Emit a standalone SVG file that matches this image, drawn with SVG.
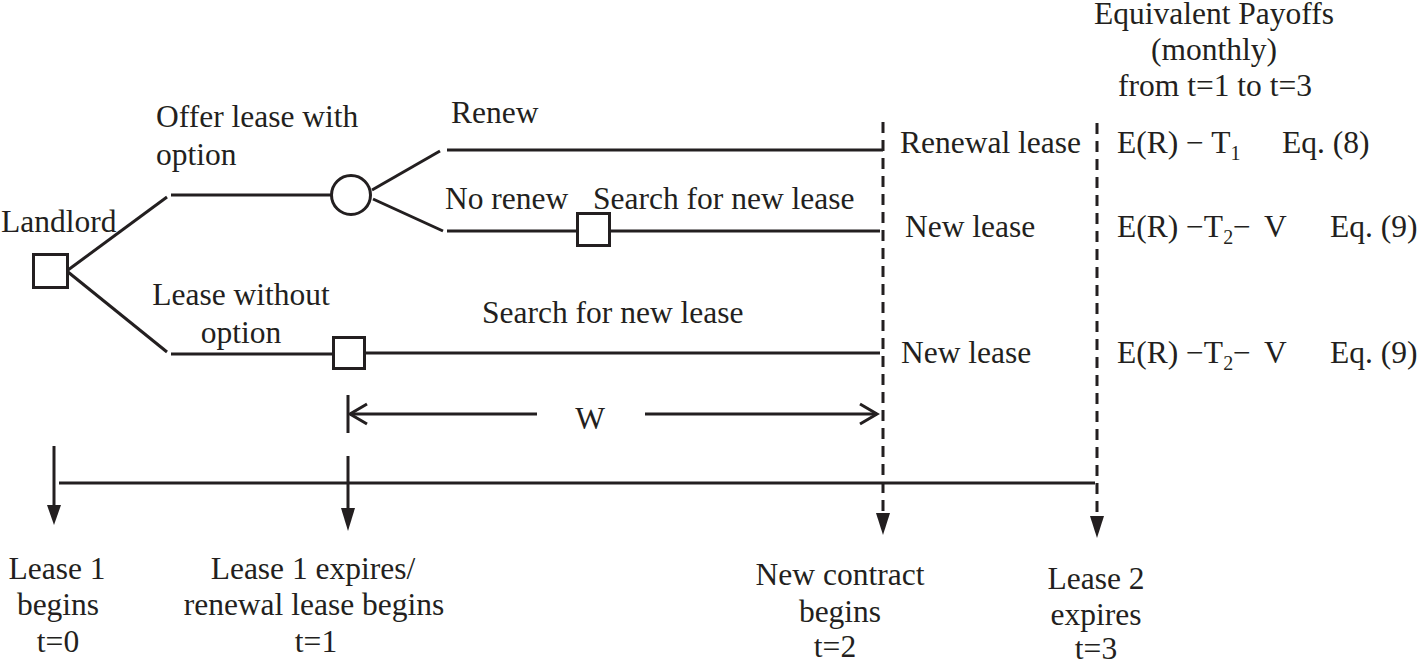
<svg xmlns="http://www.w3.org/2000/svg" width="1417" height="664" viewBox="0 0 1417 664" font-family="Liberation Serif, DejaVu Serif, serif">
<style>
text{font-size:31.5px;fill:#231f20}
.c{text-anchor:middle}
.ln{stroke:#231f20;stroke-width:3;fill:none}
.dash{stroke:#231f20;stroke-width:3;fill:none;stroke-dasharray:11 7}
.node{stroke:#231f20;stroke-width:3;fill:#fff}
.sub{font-size:20px}
.head{fill:#231f20;stroke:none}
</style>
<rect width="1417" height="664" fill="#fff"/>

<g id="connectors">
  <line class="ln" x1="68" y1="270" x2="167" y2="197"/>
  <line class="ln" x1="171" y1="195" x2="331" y2="195"/>
  <line class="ln" x1="68" y1="272" x2="167" y2="352"/>
  <line class="ln" x1="171" y1="354" x2="333" y2="354"/>
  <line class="ln" x1="372" y1="190" x2="440" y2="151"/>
  <line class="ln" x1="373" y1="199" x2="443" y2="231"/>
  <line class="ln" x1="447" y1="150" x2="883" y2="150"/>
  <line class="ln" x1="447" y1="231" x2="577" y2="231"/>
  <line class="ln" x1="610" y1="231" x2="880" y2="231"/>
  <line class="ln" x1="365" y1="353" x2="880" y2="353"/>
  <line class="dash" x1="883" y1="122" x2="883" y2="515"/>
  <path class="head" d="M876,513 L890,513 L883,535 Z"/>
  <line class="dash" x1="1097" y1="123" x2="1097" y2="518"/>
  <path class="head" d="M1090,516 L1104,516 L1097,538 Z"/>
  <line class="ln" x1="59" y1="483" x2="1095" y2="483"/>
  <line class="ln" x1="54" y1="446" x2="54" y2="507"/>
  <path class="head" d="M47,505 L61,505 L54,525 Z"/>
  <line class="ln" x1="348" y1="456" x2="348" y2="510"/>
  <path class="head" d="M341,508 L355,508 L348,531 Z"/>
  <line class="ln" x1="348" y1="395" x2="348" y2="433"/>
  <line class="ln" x1="350" y1="414" x2="537" y2="414"/>
  <polyline class="ln" points="367,404 350,414 367,424"/>
  <line class="ln" x1="645" y1="414" x2="877" y2="414"/>
  <polyline class="ln" points="860,404 877,414 860,424"/>
</g>

<g id="landlord">
  <rect class="node" x="33.5" y="254.5" width="34" height="33"/>
  <text x="1" y="232">Landlord</text>
</g>
<g id="chance-node">
  <circle class="node" cx="351" cy="195" r="19.5"/>
</g>
<g id="search-node-1">
  <rect class="node" x="577.5" y="213.5" width="32" height="32"/>
</g>
<g id="search-node-2">
  <rect class="node" x="333.5" y="337.5" width="31" height="31"/>
</g>

<g id="branch-labels">
  <text x="156" y="127">Offer lease with</text>
  <text x="156" y="165">option</text>
  <text class="c" x="241" y="305">Lease without</text>
  <text class="c" x="241" y="343">option</text>
  <text x="451" y="123">Renew</text>
  <text x="445" y="209">No renew</text>
  <text x="593" y="209">Search for new lease</text>
  <text x="482" y="323">Search for new lease</text>
  <text class="c" x="590" y="429">W</text>
</g>

<g id="outcomes">
  <text x="900" y="153">Renewal lease</text>
  <text x="905" y="237">New lease</text>
  <text x="901" y="363">New lease</text>
</g>

<g id="payoffs">
  <text class="c" x="1214" y="24">Equivalent Payoffs</text>
  <text class="c" x="1214" y="60">(monthly)</text>
  <text class="c" x="1215" y="96">from t=1 to t=3</text>
  <text x="1117" y="153">E(R) − T<tspan class="sub" dy="7">1</tspan></text>
  <text x="1282" y="153">Eq. (8)</text>
  <text x="1117" y="237">E(R) −T<tspan class="sub" dy="7">2</tspan><tspan x="1233" dy="-7">−</tspan><tspan x="1264">V</tspan></text>
  <text x="1330" y="237">Eq. (9)</text>
  <text x="1117" y="363">E(R) −T<tspan class="sub" dy="7">2</tspan><tspan x="1233" dy="-7">−</tspan><tspan x="1264">V</tspan></text>
  <text x="1330" y="363">Eq. (9)</text>
</g>

<g id="time-labels">
  <text class="c" x="57" y="579">Lease 1</text>
  <text class="c" x="58" y="615">begins</text>
  <text class="c" x="58" y="652">t=0</text>
  <text class="c" x="313" y="579">Lease 1 expires/</text>
  <text class="c" x="314" y="615">renewal lease begins</text>
  <text class="c" x="316" y="652">t=1</text>
  <text class="c" x="840" y="585">New contract</text>
  <text class="c" x="840" y="622">begins</text>
  <text class="c" x="835" y="657">t=2</text>
  <text class="c" x="1096" y="589">Lease 2</text>
  <text class="c" x="1096" y="625">expires</text>
  <text class="c" x="1096" y="659">t=3</text>
</g>
</svg>
